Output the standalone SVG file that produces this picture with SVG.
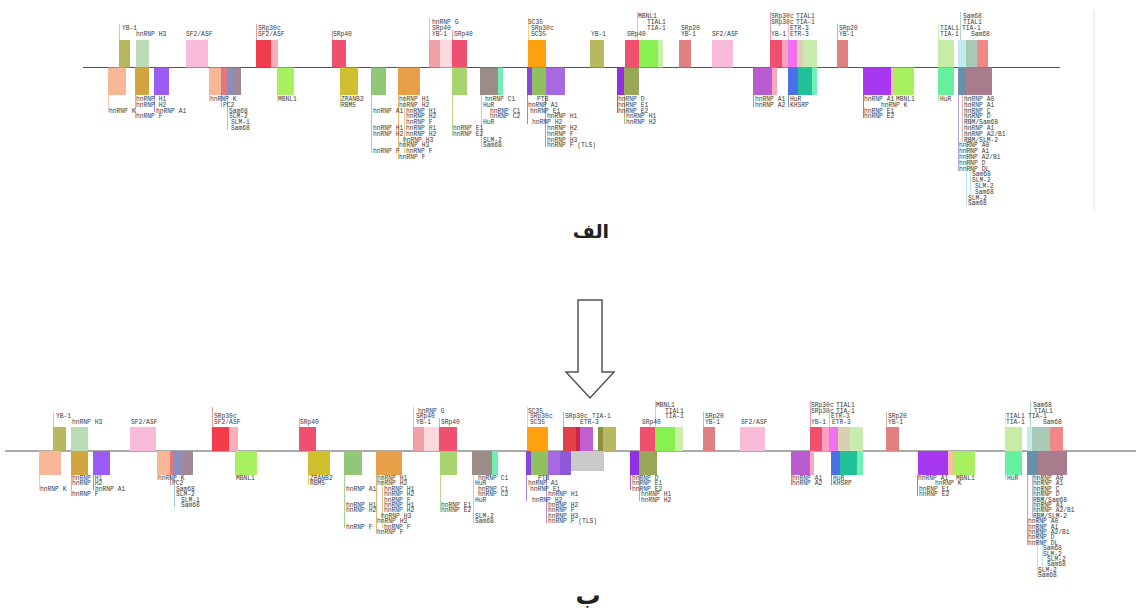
<svg xmlns="http://www.w3.org/2000/svg" width="1136" height="614" viewBox="0 0 1136 614" xml:space="preserve">
<style>
.t{font-family:"Liberation Mono",monospace;font-size:6.3px;fill:#3a3a3a}
.ax{stroke:#555;stroke-width:1}
.ld{stroke-width:0.8;fill:none}
.cap{font-family:"DejaVu Sans","Noto Sans",sans-serif;font-size:19px;font-weight:bold;fill:#222;text-anchor:middle}
.cap2{font-family:"DejaVu Sans","Noto Sans",sans-serif;font-size:25px;font-weight:bold;fill:#222;text-anchor:middle}
</style>
<rect width="1136" height="614" fill="#fff"/>
<line x1="1094" y1="10" x2="1094" y2="210" stroke="#e4e4e4" stroke-width="1"/>
<g id="axes">
<line class="ax" x1="83" y1="67.5" x2="1060" y2="67.5"/>
<line class="ax" x1="5" y1="451" x2="1136" y2="451"/>
</g>
<g id="leaders">
<line class="ld" stroke="#c8c870" x1="119.5" y1="24" x2="119.5" y2="40"/>
<line class="ld" stroke="#f08080" x1="256.5" y1="24" x2="256.5" y2="40"/>
<line class="ld" stroke="#f08098" x1="332.5" y1="30" x2="332.5" y2="40"/>
<line class="ld" stroke="#f0a0a8" x1="429.5" y1="18" x2="429.5" y2="40"/>
<line class="ld" stroke="#f08098" x1="452.5" y1="30" x2="452.5" y2="40"/>
<line class="ld" stroke="#ffc060" x1="528.5" y1="18" x2="528.5" y2="40"/>
<line class="ld" stroke="#a0e070" x1="637.5" y1="12" x2="637.5" y2="40"/>
<line class="ld" stroke="#f08098" x1="770.5" y1="12" x2="770.5" y2="40"/>
<line class="ld" stroke="#f0a0f0" x1="788.5" y1="24" x2="788.5" y2="40"/>
<line class="ld" stroke="#e09090" x1="837.5" y1="24" x2="837.5" y2="40"/>
<line class="ld" stroke="#c8eca8" x1="938.5" y1="24" x2="938.5" y2="40"/>
<line class="ld" stroke="#a0c8c0" x1="960.5" y1="12" x2="960.5" y2="40"/>
<line class="ld" stroke="#f8b8a0" x1="108.5" y1="95" x2="108.5" y2="112"/>
<line class="ld" stroke="#d4a440" x1="135.5" y1="95" x2="135.5" y2="118"/>
<line class="ld" stroke="#9b5cf4" x1="154.5" y1="95" x2="154.5" y2="112"/>
<line class="ld" stroke="#f8b898" x1="209.5" y1="95" x2="209.5" y2="101"/>
<line class="ld" stroke="#e87878" x1="221.5" y1="95" x2="221.5" y2="107"/>
<line class="ld" stroke="#88b8e0" x1="227.5" y1="95" x2="227.5" y2="130"/>
<line class="ld" stroke="#a8f060" x1="277.5" y1="95" x2="277.5" y2="101"/>
<line class="ld" stroke="#d0c030" x1="340.5" y1="95" x2="340.5" y2="107"/>
<line class="ld" stroke="#90c878" x1="371.5" y1="95" x2="371.5" y2="153"/>
<line class="ld" stroke="#e8a048" x1="398.5" y1="95" x2="398.5" y2="159"/>
<line class="ld" stroke="#e8b870" x1="404.5" y1="95" x2="404.5" y2="153"/>
<line class="ld" stroke="#a8d470" x1="452.5" y1="95" x2="452.5" y2="136"/>
<line class="ld" stroke="#88d0d8" x1="481.5" y1="95" x2="481.5" y2="147"/>
<line class="ld" stroke="#9060e0" x1="527.5" y1="95" x2="527.5" y2="124"/>
<line class="ld" stroke="#a070e0" x1="545.5" y1="95" x2="545.5" y2="147"/>
<line class="ld" stroke="#9030e0" x1="617.5" y1="95" x2="617.5" y2="113"/>
<line class="ld" stroke="#98a858" x1="624.5" y1="95" x2="624.5" y2="124"/>
<line class="ld" stroke="#b85cd0" x1="753.5" y1="95" x2="753.5" y2="107"/>
<line class="ld" stroke="#4a70e8" x1="788.5" y1="95" x2="788.5" y2="107"/>
<line class="ld" stroke="#a838f0" x1="863.5" y1="95" x2="863.5" y2="118"/>
<line class="ld" stroke="#a8f060" x1="892.5" y1="95" x2="892.5" y2="101"/>
<line class="ld" stroke="#66f0a0" x1="938.5" y1="95" x2="938.5" y2="101"/>
<line class="ld" stroke="#a08ec8" x1="958.5" y1="95" x2="958.5" y2="171"/>
<line class="ld" stroke="#d0a0b8" x1="962.5" y1="95" x2="962.5" y2="142"/>
<line class="ld" stroke="#a8e0f0" x1="966.5" y1="95" x2="966.5" y2="206"/>
<line class="ld" stroke="#a8e0f0" x1="970.5" y1="95" x2="970.5" y2="194"/>
<line class="ld" stroke="#c8c870" x1="53.5" y1="412" x2="53.5" y2="427"/>
<line class="ld" stroke="#f08080" x1="212.5" y1="407" x2="212.5" y2="427"/>
<line class="ld" stroke="#f08098" x1="299.5" y1="418" x2="299.5" y2="427"/>
<line class="ld" stroke="#f0a0a8" x1="413.5" y1="407" x2="413.5" y2="427"/>
<line class="ld" stroke="#f08098" x1="439.5" y1="418" x2="439.5" y2="427"/>
<line class="ld" stroke="#ffc060" x1="527.5" y1="407" x2="527.5" y2="427"/>
<line class="ld" stroke="#f08080" x1="563.5" y1="412" x2="563.5" y2="427"/>
<line class="ld" stroke="#a0e070" x1="655.5" y1="401" x2="655.5" y2="427"/>
<line class="ld" stroke="#e09090" x1="703.5" y1="412" x2="703.5" y2="427"/>
<line class="ld" stroke="#f08098" x1="810.5" y1="401" x2="810.5" y2="427"/>
<line class="ld" stroke="#f0a0f0" x1="829.5" y1="412" x2="829.5" y2="427"/>
<line class="ld" stroke="#e09090" x1="886.5" y1="412" x2="886.5" y2="427"/>
<line class="ld" stroke="#c8eca8" x1="1005.5" y1="412" x2="1005.5" y2="427"/>
<line class="ld" stroke="#a0c8c0" x1="1030.5" y1="401" x2="1030.5" y2="427"/>
<line class="ld" stroke="#f8b8a0" x1="39.5" y1="475" x2="39.5" y2="490"/>
<line class="ld" stroke="#d4a440" x1="71.5" y1="475" x2="71.5" y2="496"/>
<line class="ld" stroke="#9b5cf4" x1="93.5" y1="475" x2="93.5" y2="490"/>
<line class="ld" stroke="#f8b898" x1="157.5" y1="475" x2="157.5" y2="480"/>
<line class="ld" stroke="#e87878" x1="170.5" y1="475" x2="170.5" y2="485"/>
<line class="ld" stroke="#88b8e0" x1="174.5" y1="475" x2="174.5" y2="507"/>
<line class="ld" stroke="#d0c030" x1="308.5" y1="475" x2="308.5" y2="485"/>
<line class="ld" stroke="#90c878" x1="344.5" y1="475" x2="344.5" y2="528"/>
<line class="ld" stroke="#e8a048" x1="376.5" y1="475" x2="376.5" y2="534"/>
<line class="ld" stroke="#e8b870" x1="382.5" y1="475" x2="382.5" y2="528"/>
<line class="ld" stroke="#a8d470" x1="440.5" y1="475" x2="440.5" y2="512"/>
<line class="ld" stroke="#88d0d8" x1="473.5" y1="475" x2="473.5" y2="523"/>
<line class="ld" stroke="#9060e0" x1="526.5" y1="475" x2="526.5" y2="501"/>
<line class="ld" stroke="#a070e0" x1="546.5" y1="475" x2="546.5" y2="523"/>
<line class="ld" stroke="#9030e0" x1="630.5" y1="475" x2="630.5" y2="490"/>
<line class="ld" stroke="#98a858" x1="639.5" y1="475" x2="639.5" y2="501"/>
<line class="ld" stroke="#b85cd0" x1="791.5" y1="475" x2="791.5" y2="485"/>
<line class="ld" stroke="#4a70e8" x1="831.5" y1="475" x2="831.5" y2="485"/>
<line class="ld" stroke="#a838f0" x1="917.5" y1="475" x2="917.5" y2="496"/>
<line class="ld" stroke="#66f0a0" x1="1005.5" y1="475" x2="1005.5" y2="480"/>
<line class="ld" stroke="#a08ec8" x1="1027.5" y1="475" x2="1027.5" y2="545"/>
<line class="ld" stroke="#d0a0b8" x1="1032.5" y1="475" x2="1032.5" y2="518"/>
<line class="ld" stroke="#a8e0f0" x1="1037.5" y1="475" x2="1037.5" y2="577"/>
<line class="ld" stroke="#a8e0f0" x1="1042.5" y1="475" x2="1042.5" y2="566"/>
</g>
<g id="tA1"><rect x="119" y="40" width="11" height="27.5" fill="#b8b860"/><text class="t" x="122" y="30">YB-1</text></g>
<g id="tA2"><rect x="136" y="40" width="13" height="27.5" fill="#bcdcb8"/><text class="t" x="136" y="36">hnRNP   H3</text></g>
<g id="tA3"><rect x="186" y="40" width="22" height="27.5" fill="#f8bcd8"/><text class="t" x="186" y="36">SF2/ASF</text></g>
<g id="tA4"><rect x="256" y="40" width="15" height="27.5" fill="#f23c4c"/><rect x="271" y="40" width="7" height="27.5" fill="#f8b0bc"/><text class="t" x="258" y="30">SRp30c</text><text class="t" x="258" y="36">SF2/ASF</text></g>
<g id="tA5"><rect x="332" y="40" width="14" height="27.5" fill="#f05070"/><text class="t" x="333" y="36">SRp40</text></g>
<g id="tA6"><rect x="429" y="40" width="11" height="27.5" fill="#f0a0a8"/><rect x="440" y="40" width="12" height="27.5" fill="#fcd8dc"/><rect x="452" y="40" width="15" height="27.5" fill="#f05070"/><text class="t" x="432" y="24">hnRNP   G</text><text class="t" x="432" y="30">SRp40</text><text class="t" x="432" y="36">YB-1</text><text class="t" x="454" y="36">SRp40</text></g>
<g id="tA7"><rect x="528" y="40" width="18" height="27.5" fill="#ffa010"/><text class="t" x="528" y="24">SC35</text><text class="t" x="531" y="30">SRp30c</text><text class="t" x="531" y="36">SC35</text></g>
<g id="tA8"><rect x="590" y="40" width="14" height="27.5" fill="#b8b860"/><text class="t" x="591" y="36">YB-1</text></g>
<g id="tA9"><rect x="625" y="40" width="14" height="27.5" fill="#f05070"/><rect x="639" y="40" width="19" height="27.5" fill="#88f050"/><rect x="658" y="40" width="5" height="27.5" fill="#c8f0a8"/><text class="t" x="638" y="18">MBNL1</text><text class="t" x="647" y="24">TIAL1</text><text class="t" x="647" y="30">TIA-1</text><text class="t" x="627" y="36">SRp40</text></g>
<g id="tA10"><rect x="679" y="40" width="12" height="27.5" fill="#e08080"/><text class="t" x="681" y="30">SRp20</text><text class="t" x="681" y="36">YB-1</text></g>
<g id="tA11"><rect x="712" y="40" width="21" height="27.5" fill="#f8bcd8"/><text class="t" x="712" y="36">SF2/ASF</text></g>
<g id="tA12"><rect x="770" y="40" width="12" height="27.5" fill="#f05070"/><rect x="782" y="40" width="6" height="27.5" fill="#f8a0c0"/><rect x="788" y="40" width="9" height="27.5" fill="#f070f0"/><rect x="797" y="40" width="6" height="27.5" fill="#d8d0b0"/><rect x="803" y="40" width="14" height="27.5" fill="#c8ecb0"/><text class="t" x="771" y="18">SRp30c</text><text class="t" x="796" y="18">TIAL1</text><text class="t" x="771" y="24">SRp30c</text><text class="t" x="796" y="24">TIA-1</text><text class="t" x="790" y="30">ETR-3</text><text class="t" x="771" y="36">YB-1</text><text class="t" x="790" y="36">ETR-3</text></g>
<g id="tA13"><rect x="837" y="40" width="11" height="27.5" fill="#e08080"/><text class="t" x="839" y="30">SRp20</text><text class="t" x="839" y="36">YB-1</text></g>
<g id="tA14"><rect x="938" y="40" width="16" height="27.5" fill="#c8eca8"/><text class="t" x="940" y="30">TIAL1</text><text class="t" x="940" y="36">TIA-1</text></g>
<g id="tA15"><rect x="958" y="40" width="8" height="27.5" fill="#c0ecec"/><rect x="966" y="40" width="11" height="27.5" fill="#a8c8b8"/><rect x="977" y="40" width="11" height="27.5" fill="#f08888"/><text class="t" x="963" y="18">Sam68</text><text class="t" x="963" y="24">TIAL1</text><text class="t" x="962" y="30">TIA-1</text><text class="t" x="971" y="36">Sam68</text></g>
<g id="tB1"><rect x="108" y="67.5" width="18" height="27.5" fill="#f8b898"/><text class="t" x="109" y="112.6">hnRNP   K</text></g>
<g id="tB2"><rect x="135" y="67.5" width="14" height="27.5" fill="#d4a440"/><text class="t" x="136" y="101">hnRNP   H1</text><text class="t" x="136" y="106.8">hnRNP   H2</text><text class="t" x="136" y="118.4">hnRNP   F</text></g>
<g id="tB3"><rect x="154" y="67.5" width="15" height="27.5" fill="#9b5cf4"/><text class="t" x="156" y="112.6">hnRNP   A1</text></g>
<g id="tB4"><rect x="209" y="67.5" width="12" height="27.5" fill="#f8b898"/><rect x="221" y="67.5" width="6" height="27.5" fill="#e07880"/><rect x="227" y="67.5" width="6" height="27.5" fill="#8890c0"/><rect x="233" y="67.5" width="8" height="27.5" fill="#a08898"/><text class="t" x="210" y="101">hnRNP   K</text><text class="t" x="223" y="106.8">PC2</text><text class="t" x="229" y="112.6">Sam68</text><text class="t" x="229" y="118.4">SLM-2</text><text class="t" x="231" y="124.2">SLM-1</text><text class="t" x="231" y="130">Sam68</text></g>
<g id="tB5"><rect x="277" y="67.5" width="17" height="27.5" fill="#a8f060"/><text class="t" x="278" y="101">MBNL1</text></g>
<g id="tB6"><rect x="340" y="67.5" width="18" height="27.5" fill="#d0c030"/><text class="t" x="341" y="101">ZRANB2</text><text class="t" x="341" y="106.8">RBM5</text></g>
<g id="tB7"><rect x="371" y="67.5" width="15" height="27.5" fill="#90c878"/><text class="t" x="373" y="112.6">hnRNP   A1</text><text class="t" x="373" y="130">hnRNP   H1</text><text class="t" x="373" y="135.8">hnRNP   H2</text><text class="t" x="373" y="153.2">hnRNP   F</text></g>
<g id="tB8"><rect x="398" y="67.5" width="22" height="27.5" fill="#e8a048"/><text class="t" x="399" y="101">hnRNP   H1</text><text class="t" x="399" y="106.8">hnRNP   H2</text><text class="t" x="406" y="112.6">hnRNP   H1</text><text class="t" x="406" y="118.4">hnRNP   H2</text><text class="t" x="406" y="124.2">hnRNP   F</text><text class="t" x="406" y="130">hnRNP   H1</text><text class="t" x="406" y="135.8">hnRNP   H2</text><text class="t" x="403" y="141.6">hnRNP   H3</text><text class="t" x="399" y="147.4">hnRNP   H3</text><text class="t" x="406" y="153.2">hnRNP   F</text><text class="t" x="399" y="159">hnRNP   F</text></g>
<g id="tB9"><rect x="452" y="67.5" width="15" height="27.5" fill="#a8d470"/><text class="t" x="453" y="130">hnRNP    E1</text><text class="t" x="453" y="135.8">hnRNP    E2</text></g>
<g id="tB10"><rect x="480" y="67.5" width="18" height="27.5" fill="#9c8c88"/><rect x="498" y="67.5" width="5" height="27.5" fill="#70f0b0"/><text class="t" x="485" y="101">hnRNP   C1</text><text class="t" x="483" y="106.8">HuR</text><text class="t" x="490" y="112.6">hnRNP   C1</text><text class="t" x="490" y="118.4">hnRNP   C2</text><text class="t" x="483" y="124.2">HuR</text><text class="t" x="483" y="141.6">SLM-2</text><text class="t" x="483" y="147.4">Sam68</text></g>
<g id="tB11"><rect x="527" y="67.5" width="5" height="27.5" fill="#8844dd"/><rect x="532" y="67.5" width="14" height="27.5" fill="#90c060"/><rect x="546" y="67.5" width="19" height="27.5" fill="#a868e0"/><text class="t" x="537" y="101">PTB</text><text class="t" x="528" y="106.8">hnRNP   A1</text><text class="t" x="530" y="112.6">hnRNP   E1</text><text class="t" x="547" y="118.4">hnRNP   H1</text><text class="t" x="532" y="124.2">hnRNP   H2</text><text class="t" x="547" y="130">hnRNP   H2</text><text class="t" x="547" y="135.8">hnRNP   F</text><text class="t" x="547" y="141.6">hnRNP   H3</text><text class="t" x="547" y="147.4">hnRNP   F   (TLS)</text></g>
<g id="tB12"><rect x="617" y="67.5" width="7" height="27.5" fill="#9030e0"/><rect x="624" y="67.5" width="15" height="27.5" fill="#98a858"/><text class="t" x="618" y="101">hnRNP   D</text><text class="t" x="618" y="106.8">hnRNP   E1</text><text class="t" x="618" y="112.6">hnRNP   E2</text><text class="t" x="626" y="118.4">hnRNP   H1</text><text class="t" x="626" y="124.2">hnRNP   H2</text></g>
<g id="tB13"><rect x="753" y="67.5" width="19" height="27.5" fill="#b85cd0"/><rect x="772" y="67.5" width="5" height="27.5" fill="#f8a8b8"/><text class="t" x="755" y="101">hnRNP   A1</text><text class="t" x="755" y="106.8">hnRNP   A2</text></g>
<g id="tB14"><rect x="788" y="67.5" width="10" height="27.5" fill="#4a70e8"/><rect x="798" y="67.5" width="14" height="27.5" fill="#20c098"/><rect x="812" y="67.5" width="5" height="27.5" fill="#70f0b8"/><text class="t" x="790" y="101">HuR</text><text class="t" x="790" y="106.8">KHSRP</text></g>
<g id="tB15"><rect x="863" y="67.5" width="28" height="27.5" fill="#a838f0"/><rect x="891" y="67.5" width="2" height="27.5" fill="#f8b8a8"/><rect x="893" y="67.5" width="21" height="27.5" fill="#a8f060"/><text class="t" x="864" y="101">hnRNP   A1</text><text class="t" x="896" y="101">MBNL1</text><text class="t" x="881" y="106.8">hnRNP   K</text><text class="t" x="864" y="112.6">hnRNP   E1</text><text class="t" x="864" y="118.4">hnRNP   E2</text></g>
<g id="tB16"><rect x="938" y="67.5" width="16" height="27.5" fill="#66f0a0"/><text class="t" x="940" y="101">HuR</text></g>
<g id="tB17"><rect x="958" y="67.5" width="8" height="27.5" fill="#6890a8"/><rect x="966" y="67.5" width="26" height="27.5" fill="#a87c8c"/><text class="t" x="964" y="101">hnRNP   A0</text><text class="t" x="964" y="106.8">hnRNP   A1</text><text class="t" x="964" y="112.6">hnRNP   C</text><text class="t" x="964" y="118.4">hnRNP   D</text><text class="t" x="964" y="124.2">RBM/Sam68</text><text class="t" x="964" y="130">hnRNP   A1</text><text class="t" x="964" y="135.8">hnRNP   A2/B1</text><text class="t" x="964" y="141.6">RBM/SLM-2</text><text class="t" x="959" y="147.4">hnRNP   A0</text><text class="t" x="959" y="153.2">hnRNP   A1</text><text class="t" x="959" y="159">hnRNP   A2/B1</text><text class="t" x="959" y="164.8">hnRNP   D</text><text class="t" x="959" y="170.6">hnRNP   DL</text><text class="t" x="972" y="176.4">Sam68</text><text class="t" x="972" y="182.2">SLM-2</text><text class="t" x="975" y="188">SLM-2</text><text class="t" x="975" y="193.8">Sam68</text><text class="t" x="968" y="199.6">SLM-2</text><text class="t" x="968" y="205.4">Sam68</text></g>
<g id="bA1"><rect x="53" y="427" width="13" height="24" fill="#b8b860"/><text class="t" x="56" y="418.1">YB-1</text></g>
<g id="bA2"><rect x="71" y="427" width="17" height="24" fill="#bcdcb8"/><text class="t" x="72" y="423.5">hnRNP   H3</text></g>
<g id="bA3"><rect x="130" y="427" width="26" height="24" fill="#f8bcd8"/><text class="t" x="131" y="423.5">SF2/ASF</text></g>
<g id="bA4"><rect x="212" y="427" width="17" height="24" fill="#f23c4c"/><rect x="229" y="427" width="9" height="24" fill="#f8b0bc"/><text class="t" x="214" y="418.1">SRp30c</text><text class="t" x="214" y="423.5">SF2/ASF</text></g>
<g id="bA5"><rect x="299" y="427" width="17" height="24" fill="#f05070"/><text class="t" x="300" y="423.5">SRp40</text></g>
<g id="bA6"><rect x="413" y="427" width="11" height="24" fill="#f0a0a8"/><rect x="424" y="427" width="15" height="24" fill="#fcd8dc"/><rect x="439" y="427" width="18" height="24" fill="#f05070"/><text class="t" x="418" y="412.7">hnRNP   G</text><text class="t" x="416" y="418.1">SRp40</text><text class="t" x="416" y="423.5">YB-1</text><text class="t" x="441" y="423.5">SRp40</text></g>
<g id="bA7"><rect x="527" y="427" width="21" height="24" fill="#ffa010"/><text class="t" x="528" y="412.7">SC35</text><text class="t" x="530" y="418.1">SRp30c</text><text class="t" x="530" y="423.5">SC35</text></g>
<g id="bA8"><rect x="563" y="427" width="13" height="24" fill="#e04048"/><rect x="576" y="427" width="4" height="24" fill="#c82848"/><rect x="580" y="427" width="13" height="24" fill="#c060d0"/><rect x="598" y="427" width="5" height="24" fill="#8a9040"/><rect x="603" y="427" width="13" height="24" fill="#b8b860"/><text class="t" x="565" y="418.1">SRp30c</text><text class="t" x="592" y="418.1">TIA-1</text><text class="t" x="580" y="423.5">ETR-3</text></g>
<g id="bA9"><rect x="640" y="427" width="15" height="24" fill="#f05070"/><rect x="655" y="427" width="20" height="24" fill="#88f050"/><rect x="675" y="427" width="8" height="24" fill="#c8f0a8"/><text class="t" x="656" y="407.3">MBNL1</text><text class="t" x="665" y="412.7">TIAL1</text><text class="t" x="665" y="418.1">TIA-1</text><text class="t" x="642" y="423.5">SRp40</text></g>
<g id="bA10"><rect x="703" y="427" width="12" height="24" fill="#e08080"/><text class="t" x="705" y="418.1">SRp20</text><text class="t" x="705" y="423.5">YB-1</text></g>
<g id="bA11"><rect x="740" y="427" width="25" height="24" fill="#f8bcd8"/><text class="t" x="741" y="423.5">SF2/ASF</text></g>
<g id="bA12"><rect x="810" y="427" width="12" height="24" fill="#f05070"/><rect x="822" y="427" width="7" height="24" fill="#f8a0c0"/><rect x="829" y="427" width="9" height="24" fill="#f070f0"/><rect x="838" y="427" width="12" height="24" fill="#d8d0b0"/><rect x="850" y="427" width="13" height="24" fill="#c8ecb0"/><text class="t" x="811" y="407.3">SRp30c</text><text class="t" x="836" y="407.3">TIAL1</text><text class="t" x="811" y="412.7">SRp30c</text><text class="t" x="836" y="412.7">TIA-1</text><text class="t" x="831" y="418.1">ETR-3</text><text class="t" x="811" y="423.5">YB-1</text><text class="t" x="832" y="423.5">ETR-3</text></g>
<g id="bA13"><rect x="886" y="427" width="13" height="24" fill="#e08080"/><text class="t" x="888" y="418.1">SRp20</text><text class="t" x="888" y="423.5">YB-1</text></g>
<g id="bA14"><rect x="1005" y="427" width="17" height="24" fill="#c8eca8"/><text class="t" x="1006" y="418.1">TIAL1</text><text class="t" x="1006" y="423.5">TIA-1</text></g>
<g id="bA15"><rect x="1027" y="427" width="5" height="24" fill="#c0ecec"/><rect x="1032" y="427" width="18" height="24" fill="#a8c8b8"/><rect x="1050" y="427" width="13" height="24" fill="#f08888"/><text class="t" x="1033" y="407.3">Sam68</text><text class="t" x="1034" y="412.7">TIAL1</text><text class="t" x="1028" y="418.1">TIA-1</text><text class="t" x="1043" y="423.5">Sam68</text></g>
<g id="bB1"><rect x="39" y="451" width="22" height="24" fill="#f8b898"/><text class="t" x="40" y="490.8">hnRNP   K</text></g>
<g id="bB2"><rect x="71" y="451" width="17" height="24" fill="#d4a440"/><text class="t" x="72" y="480">hnRNP   H1</text><text class="t" x="72" y="485.4">hnRNP   H2</text><text class="t" x="72" y="496.2">hnRNP   F</text></g>
<g id="bB3"><rect x="93" y="451" width="17" height="24" fill="#9b5cf4"/><text class="t" x="95" y="490.8">hnRNP   A1</text></g>
<g id="bB4"><rect x="157" y="451" width="13" height="24" fill="#f8b898"/><rect x="170" y="451" width="3" height="24" fill="#e07880"/><rect x="173" y="451" width="9" height="24" fill="#8890c0"/><rect x="182" y="451" width="11" height="24" fill="#a08898"/><text class="t" x="158" y="480">hnRNP   K</text><text class="t" x="172" y="485.4">PC2</text><text class="t" x="176" y="490.8">Sam68</text><text class="t" x="176" y="496.2">SLM-2</text><text class="t" x="181" y="501.6">SLM-1</text><text class="t" x="181" y="507">Sam68</text></g>
<g id="bB5"><rect x="235" y="451" width="22" height="24" fill="#a8f060"/><text class="t" x="236" y="480">MBNL1</text></g>
<g id="bB6"><rect x="308" y="451" width="22" height="24" fill="#d0c030"/><text class="t" x="310" y="480">ZRANB2</text><text class="t" x="310" y="485.4">RBM5</text></g>
<g id="bB7"><rect x="344" y="451" width="18" height="24" fill="#90c878"/><text class="t" x="346" y="490.8">hnRNP   A1</text><text class="t" x="346" y="507">hnRNP   H1</text><text class="t" x="346" y="512.4">hnRNP   H2</text><text class="t" x="346" y="528.6">hnRNP   F</text></g>
<g id="bB8"><rect x="376" y="451" width="26" height="24" fill="#e8a048"/><text class="t" x="377" y="480">hnRNP   H1</text><text class="t" x="377" y="485.4">hnRNP   H2</text><text class="t" x="384" y="490.8">hnRNP   H1</text><text class="t" x="384" y="496.2">hnRNP   H2</text><text class="t" x="384" y="501.6">hnRNP   F</text><text class="t" x="384" y="507">hnRNP   H1</text><text class="t" x="384" y="512.4">hnRNP   H2</text><text class="t" x="381" y="517.8">hnRNP   H3</text><text class="t" x="377" y="523.2">hnRNP   H3</text><text class="t" x="384" y="528.6">hnRNP   F</text><text class="t" x="377" y="534">hnRNP   F</text></g>
<g id="bB9"><rect x="440" y="451" width="17" height="24" fill="#a8d470"/><text class="t" x="441" y="507">hnRNP   E1</text><text class="t" x="441" y="512.4">hnRNP   E2</text></g>
<g id="bB10"><rect x="472" y="451" width="20" height="24" fill="#9c8c88"/><rect x="492" y="451" width="6" height="24" fill="#70f0b0"/><text class="t" x="478" y="480">hnRNP   C1</text><text class="t" x="475" y="485.4">HuR</text><text class="t" x="478" y="490.8">hnRNP   C1</text><text class="t" x="478" y="496.2">hnRNP   C2</text><text class="t" x="475" y="501.6">HuR</text><text class="t" x="475" y="517.8">SLM-2</text><text class="t" x="475" y="523.2">Sam68</text></g>
<g id="bB11"><rect x="526" y="451" width="5" height="24" fill="#8844dd"/><rect x="531" y="451" width="17" height="24" fill="#90c060"/><rect x="548" y="451" width="12" height="24" fill="#a868e0"/><rect x="560" y="451" width="11" height="24" fill="#8a58d8"/><rect x="571" y="451" width="33" height="20" fill="#cacaca"/><text class="t" x="538" y="480">PTB</text><text class="t" x="528" y="485.4">hnRNP   A1</text><text class="t" x="530" y="490.8">hnRNP   E1</text><text class="t" x="548" y="496.2">hnRNP   H1</text><text class="t" x="532" y="501.6">hnRNP   H2</text><text class="t" x="548" y="507">hnRNP   H2</text><text class="t" x="548" y="512.4">hnRNP   F</text><text class="t" x="548" y="517.8">hnRNP   H3</text><text class="t" x="548" y="523.2">hnRNP   F   (TLS)</text></g>
<g id="bB12"><rect x="630" y="451" width="9" height="24" fill="#9030e0"/><rect x="639" y="451" width="18" height="24" fill="#98a858"/><text class="t" x="632" y="480">hnRNP   D</text><text class="t" x="632" y="485.4">hnRNP   E1</text><text class="t" x="632" y="490.8">hnRNP   E2</text><text class="t" x="641" y="496.2">hnRNP   H1</text><text class="t" x="641" y="501.6">hnRNP   H2</text></g>
<g id="bB13"><rect x="791" y="451" width="19" height="24" fill="#b85cd0"/><rect x="810" y="451" width="4" height="24" fill="#f8a8b8"/><text class="t" x="792" y="480">hnRNP   A1</text><text class="t" x="792" y="485.4">hnRNP   A2</text></g>
<g id="bB14"><rect x="831" y="451" width="9" height="24" fill="#4a70e8"/><rect x="840" y="451" width="17" height="24" fill="#20c098"/><rect x="857" y="451" width="6" height="24" fill="#70f0b8"/><text class="t" x="833" y="480">HuR</text><text class="t" x="833" y="485.4">KHSRP</text></g>
<g id="bB15"><rect x="918" y="451" width="30" height="24" fill="#a838f0"/><rect x="948" y="451" width="5" height="24" fill="#f8c0a0"/><rect x="953" y="451" width="22" height="24" fill="#a8f060"/><text class="t" x="918" y="480">hnRNP   A1</text><text class="t" x="956" y="480">MBNL1</text><text class="t" x="935" y="485.4">hnRNP   K</text><text class="t" x="919" y="490.8">hnRNP   E1</text><text class="t" x="919" y="496.2">hnRNP   E2</text></g>
<g id="bB16"><rect x="1005" y="451" width="17" height="24" fill="#66f0a0"/><text class="t" x="1007" y="480">HuR</text></g>
<g id="bB17"><rect x="1027" y="451" width="11" height="24" fill="#6890a8"/><rect x="1038" y="451" width="29" height="24" fill="#a87c8c"/><text class="t" x="1033" y="480">hnRNP   A0</text><text class="t" x="1033" y="485.4">hnRNP   A1</text><text class="t" x="1033" y="490.8">hnRNP   C</text><text class="t" x="1033" y="496.2">hnRNP   D</text><text class="t" x="1033" y="501.6">RBM/Sam68</text><text class="t" x="1033" y="507">hnRNP   A1</text><text class="t" x="1033" y="512.4">hnRNP   A2/B1</text><text class="t" x="1033" y="517.8">RBM/SLM-2</text><text class="t" x="1028" y="523.2">hnRNP   A0</text><text class="t" x="1028" y="528.6">hnRNP   A1</text><text class="t" x="1028" y="534">hnRNP   A2/B1</text><text class="t" x="1028" y="539.4">hnRNP   D</text><text class="t" x="1028" y="544.8">hnRNP   DL</text><text class="t" x="1043" y="550.2">Sam68</text><text class="t" x="1043" y="555.6">SLM-2</text><text class="t" x="1047" y="561">SLM-2</text><text class="t" x="1047" y="566.4">Sam68</text><text class="t" x="1038" y="571.8">SLM-2</text><text class="t" x="1038" y="577.2">Sam68</text></g>
<g id="arrow"><polygon points="578,300 602,300 602,372 614,372 590,398 566,372 578,372" fill="#fff" stroke="#555" stroke-width="1.5"/></g>
<g id="captions"><text class="cap" x="591" y="238">الف</text><text class="cap2" x="588" y="604">ب</text></g>
</svg>
